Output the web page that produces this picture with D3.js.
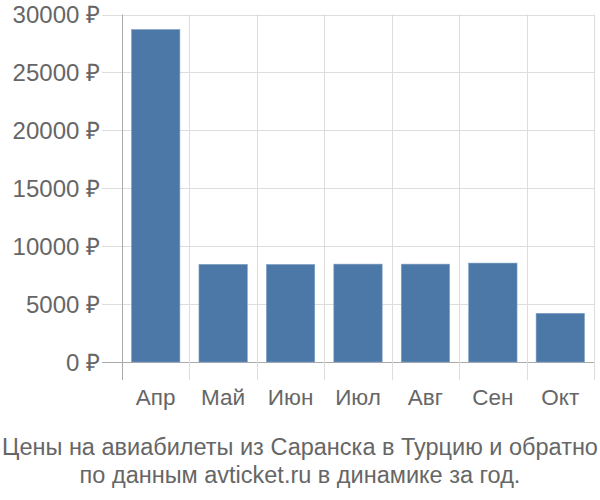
<!DOCTYPE html>
<html><head><meta charset="utf-8">
<script src="https://cdn.jsdelivr.net/npm/d3@7"></script>
<style>body{margin:0;background:#fff}svg{display:block}text{font-family:"Liberation Sans",Arial,sans-serif}</style>
</head><body><svg id="c" width="600" height="500"></svg>
<script>
const categories = ["Апр","Май","Июн","Июл","Авг","Сен","Окт"];
const values = [28700, 8430, 8420, 8450, 8450, 8540, 4200];
const yTicks = [0,5000,10000,15000,20000,25000,30000];
const titleLines = ["Цены на авиабилеты из Саранска в Турцию и обратно","по данным avticket.ru в динамике за год."];

const svg = d3.select("#c");
const L=122, R=594, T=14.5, B=362;
const x = d3.scaleBand().domain(categories).range([L,R]).paddingInner(0.283).paddingOuter(0.1415);
const y = d3.scaleLinear().domain([0,30000]).range([B,T]);
const step = x.step();
const bounds = categories.map((c,i)=>L+i*step).concat([R]);

svg.append("g").selectAll("line").data(yTicks).join("line")
  .attr("x1",102).attr("x2",R).attr("y1",d=>Math.round(y(d))+0.5).attr("y2",d=>Math.round(y(d))+0.5)
  .attr("stroke",d=>d===0?"#aaa":"#ddd").attr("stroke-width",1);
svg.append("g").selectAll("line").data(bounds.slice(1)).join("line")
  .attr("x1",d=>Math.round(d)+0.5).attr("x2",d=>Math.round(d)+0.5).attr("y1",T).attr("y2",380)
  .attr("stroke","#ddd");
svg.append("line").attr("x1",L+0.5).attr("x2",L+0.5).attr("y1",T).attr("y2",380).attr("stroke","#aaa");

svg.append("g").selectAll("rect").data(values).join("rect")
  .attr("x",(d,i)=>x(categories[i])).attr("width",x.bandwidth())
  .attr("y",d=>y(d)).attr("height",d=>B-y(d))
  .attr("fill","#4c78a8").attr("stroke","#7f9fc4").attr("stroke-width",0.6);

svg.append("g").selectAll("text").data(yTicks).join("text")
  .attr("x",100).attr("y",d=>y(d)).attr("dy","0.36em").attr("text-anchor","end")
  .attr("font-size",24).attr("fill","#666").text(d=>d+" ₽");
svg.append("g").selectAll("text").data(categories).join("text")
  .attr("x",d=>x(d)+x.bandwidth()/2).attr("y",405).attr("text-anchor","middle")
  .attr("font-size",22.5).attr("fill","#666").text(d=>d);
svg.append("g").selectAll("text").data(titleLines).join("text")
  .attr("x",300).attr("y",(d,i)=>455+i*28).attr("text-anchor","middle")
  .attr("font-size",23.5).attr("fill","#666").text(d=>d);
</script></body></html>
